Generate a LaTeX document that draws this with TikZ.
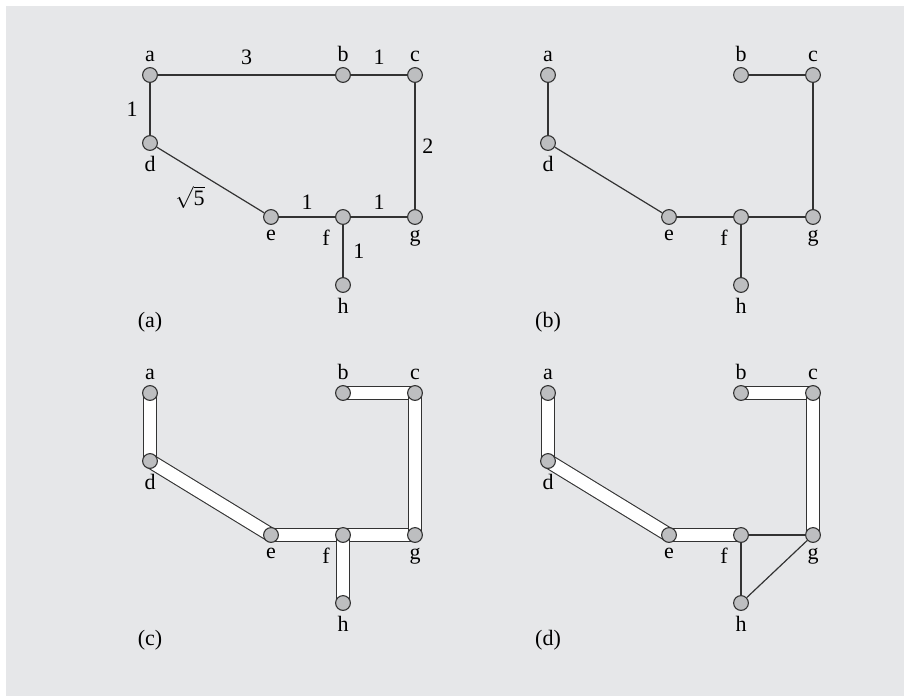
\documentclass[tikz,border=0pt]{standalone}
\usepackage{fontspec}
\setmainfont{Liberation Serif}
\usetikzlibrary{positioning, backgrounds}

\definecolor{panelgray}{HTML}{E6E7E9}
\definecolor{vertexgray}{HTML}{BDBEC0}
\definecolor{edgeblack}{HTML}{333333}

% the eight vertices of one panel, named a#1 ... h#1
\newcommand{\vertices}[1]{%
  \node[vtx, label=above:a] (a#1) at (150,75) {};
  \node[vtx, label=above:b] (b#1) at (343,75) {};
  \node[vtx, label=above:c] (c#1) at (415,75) {};
  \node[vtx, label=below:d] (d#1) at (150,143) {};
  \node[vtx, label=below:e] (e#1) at (271,217) {};
  \node[vtx, label={[label distance=0.5pt]below left:f}] (f#1) at (343,217) {};
  \node[vtx, label=below:g] (g#1) at (415,217) {};
  \node[vtx, label=below:h] (h#1) at (343,285) {};
}

\begin{document}
\begin{tikzpicture}[
    x=0.5pt, y=-0.5pt,
    font=\fontsize{11}{13}\selectfont,
    label distance=-1pt,
    vtx/.style={circle, draw=edgeblack, fill=vertexgray, line width=0.55pt, minimum size=7.4pt, inner sep=0pt},
    link/.style={draw=edgeblack, line width=0.6pt},
    tube/.style={draw=edgeblack, line width=0.55pt, double=white, double distance=6.3pt}
]
\useasboundingbox (0,0) rectangle (904,696);

% Nodos
\vertices{1}
\node at (150,322) {(a)};
\begin{scope}[shift={(398,0)}]
  \vertices{2}
  \node at (150,322) {(b)};
\end{scope}
\begin{scope}[shift={(0,318)}]
  \vertices{3}
  \node at (150,322) {(c)};
\end{scope}
\begin{scope}[shift={(398,318)}]
  \vertices{4}
  \node at (150,322) {(d)};
\end{scope}

\begin{scope}[on background layer]
\fill[panelgray] (6,6) rectangle (904,696);

% (a) weighted graph
\draw[link] (a1) -- node[above=1.5pt] {3} (b1);
\draw[link] (b1) -- node[above=1.5pt] {1} (c1);
\draw[link] (a1) -- node[left=2.5pt] {1} (d1);
\draw[link] (c1) -- node[right] {2} (g1);
\draw[link] (d1) -- node[below left=-1pt] {$\sqrt{\mbox{5}}$} (e1);
\draw[link] (e1) -- node[above] {1} (f1);
\draw[link] (f1) -- node[above] {1} (g1);
\draw[link] (f1) -- node[right=1.5pt] {1} (h1);

% (b) tree
\draw[link] (a2) -- (d2);
\draw[link] (d2) -- (e2);
\draw[link] (e2) -- (f2);
\draw[link] (f2) -- (g2);
\draw[link] (f2) -- (h2);
\draw[link] (b2) -- (c2);
\draw[link] (c2) -- (g2);

% (c) tubes
\draw[tube] (a3.center) -- (d3.center);
\draw[tube] (d3.center) -- (e3.center);
\draw[tube] (e3.center) -- (f3.center);
\draw[tube] (f3.center) -- (g3.center);
\draw[tube] (b3.center) -- (c3.center);
\draw[tube] (c3.center) -- (g3.center);
\draw[tube] (f3.center) -- (h3.center);

% (d) tubes and remaining edges
\draw[link] (f4) -- (g4);
\draw[link] (f4) -- (h4);
\draw[link] (h4) -- (g4);
\draw[tube] (a4.center) -- (d4.center);
\draw[tube] (d4.center) -- (e4.center);
\draw[tube] (e4.center) -- (f4.center);
\draw[tube] (b4.center) -- (c4.center);
\draw[tube] (c4.center) -- (g4.center);
\end{scope}

\end{tikzpicture}
\end{document}
